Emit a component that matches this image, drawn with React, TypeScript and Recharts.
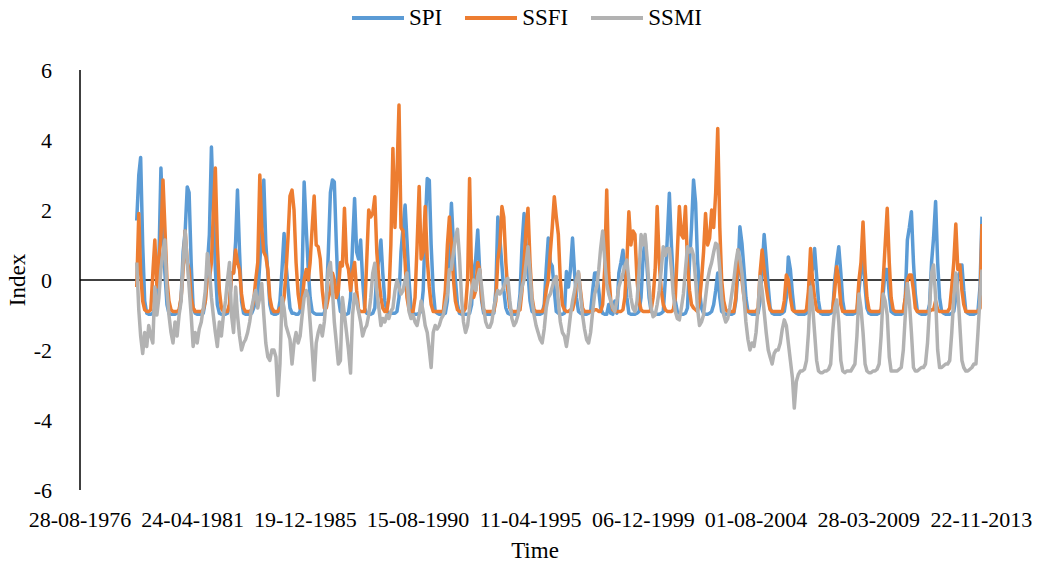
import { Line, LineChart, ReferenceLine, XAxis, YAxis } from 'recharts'

const FONT = '"Liberation Serif", "Times New Roman", serif'
const START_YEAR = 1979

// monthly values, one row per year (Jan..Dec), 1979-2013
const spi = [
  1.7, 3.0, 3.5, 1.0, -0.6, -0.95, -0.98, -0.98, -0.95, -0.8, -0.3, 0.5,
  3.2, 1.6, 0.2, -0.7, -0.95, -0.98, -0.98, -0.98, -0.95, -0.9, -0.5, 0.8,
  1.4, 2.66, 2.5, 0.5, -0.8, -0.95, -0.98, -0.98, -0.98, -0.95, -0.6, 0.4,
  1.3, 3.8, 2.2, 0.3, -0.7, -0.95, -0.98, -0.98, -0.98, -0.95, -0.7, 0.2,
  0.2, 1.1, 2.57, 0.8, -0.6, -0.95, -0.98, -0.98, -0.98, -0.95, -0.8, -0.6,
  -0.5, 0.5, 1.5, 2.86, 1.05, 0.2, -0.7, -0.95, -0.98, -0.98, -0.95, -0.6,
  0.3, 1.33, 0.5, -0.2, -0.8, -0.95, -0.95, -0.98, -0.98, -0.9, 0.2, 2.8,
  1.5, 0.3, -0.5, -0.9, -0.95, -0.98, -0.98, -0.98, -0.98, -0.95, -0.6, 0.8,
  2.5, 2.86, 2.8, 1.0, -0.5, -0.9, -0.95, -0.98, -0.98, -0.95, -0.5, 1.0,
  2.33, 0.8, 0.6, 1.14, 0.0, -0.8, -0.95, -0.98, -0.98, -0.95, -0.8, 0.2,
  0.6, 1.14, 0.2, -0.6, -0.9, -0.95, -0.95, -0.95, -0.95, -0.9, -0.5, 0.8,
  1.5, 2.14, 1.14, 0.0, -0.8, -0.95, -0.98, -0.98, -0.95, -0.9, -0.3, 1.5,
  2.9, 2.85, 1.0, -0.3, -0.9, -0.95, -0.98, -0.98, -0.98, -0.95, -0.6, 0.8,
  2.19, 1.0, 0.0, -0.7, -0.95, -0.98, -0.98, -0.98, -0.98, -0.95, -0.7, 0.2,
  0.6, 1.43, 0.3, -0.6, -0.95, -0.98, -0.98, -0.98, -0.98, -0.95, -0.3, 1.8,
  1.2, 0.4, -0.3, -0.8, -0.95, -0.98, -0.98, -0.98, -0.98, -0.95, -0.4, 1.0,
  1.9, 1.0, 0.2, -0.6, -0.9, -0.95, -0.98, -0.98, -0.98, -0.95, -0.7, 0.3,
  1.2, 0.5, 0.4, -0.3, -0.9, -0.95, -0.98, -0.98, -0.95, 0.24, -0.2, 0.3,
  1.2, 0.2, -0.5, -0.9, -0.95, -0.98, -0.98, -0.98, -0.95, -0.9, -0.3, 0.2,
  0.2, -0.3, -0.8, -0.95, -0.98, -0.98, -0.7, -0.95, -0.98, -0.6, -0.95, 0.2,
  0.5, 0.85, 0.2, -0.5, -0.95, -0.98, -0.98, -0.98, -0.95, -0.9, -0.5, 0.6,
  1.2, 0.3, -0.5, -0.9, -0.95, -0.98, -0.98, -0.98, -0.95, -0.9, 0.0, 1.2,
  2.48, 1.0, 0.0, -0.6, -0.9, -0.95, -0.98, -0.98, -0.95, -0.8, 0.5, 1.5,
  2.86, 2.2, 0.6, -0.3, -0.8, -0.95, -0.98, -0.98, -0.95, -0.9, -0.7, -0.3,
  0.2, -0.5, -0.9, -0.95, -0.98, -0.98, -0.98, -0.98, -0.95, -0.6, 0.2, 1.52,
  1.05, 0.3, -0.5, -0.9, -0.95, -0.98, -0.98, -0.98, -0.95, -0.6, 0.3, 1.3,
  0.6, -0.2, -0.8, -0.95, -0.98, -0.98, -0.98, -0.98, -0.95, -0.9, -0.5, 0.66,
  0.3, -0.4, -0.9, -0.95, -0.98, -0.98, -0.98, -0.98, -0.95, -0.8, 0.2, 0.3,
  0.9, 0.1, -0.6, -0.95, -0.98, -0.98, -0.98, -0.98, -0.95, -0.9, 0.0, 0.5,
  0.95, 0.2, -0.6, -0.95, -0.98, -0.98, -0.98, -0.98, -0.95, -0.9, -0.3, 0.3,
  0.6, -0.2, -0.8, -0.95, -0.98, -0.98, -0.98, -0.98, -0.95, -0.9, -0.4, 0.3,
  0.3, -0.4, -0.9, -0.95, -0.98, -0.98, -0.98, -0.98, -0.95, -0.5, 1.14, 1.5,
  1.95, 0.5, -0.4, -0.9, -0.95, -0.98, -0.98, -0.98, -0.95, -0.7, 0.5, 1.2,
  2.24, 0.5, -0.5, -0.9, -0.95, -0.98, -0.98, -0.98, -0.95, -0.9, -0.5, 0.1,
  0.2, 0.43, -0.3, -0.9, -0.95, -0.98, -0.98, -0.98, -0.95, -0.9, -0.2, 1.81,
]

const ssfi = [
  -0.2, 1.9, 0.2, -0.6, -0.85, -0.9, -0.9, -0.85, 0.2, 1.14, -0.2, 0.6,
  1.2, 2.86, 1.5, 0.0, -0.6, -0.85, -0.9, -0.9, -0.9, -0.85, -0.5, 0.3,
  1.4, 0.5, 0.3, -0.5, -0.8, -0.9, -0.9, -0.9, -0.9, -0.85, -0.6, 0.0,
  0.0, 0.5, 1.9, 3.2, 1.0, -0.3, -0.8, -0.9, -0.9, -0.9, -0.7, 0.2,
  0.2, 0.86, 0.5, 0.3, -0.4, -0.8, -0.9, -0.9, -0.9, -0.85, -0.6, 0.0,
  0.5, 3.0, 1.5, 0.8, 0.67, 0.3, -0.5, -0.8, -0.9, -0.9, -0.9, -0.8,
  -0.8, -0.5, 0.2, 1.2, 2.4, 2.57, 2.0, 0.5, -0.4, -0.8, -0.6, 0.0,
  0.3, 0.0, 0.5, 1.5, 2.4, 1.0, 0.95, 0.6, -0.3, -0.8, -0.8, -0.5,
  -0.3, 0.2, 0.0, -0.5, -0.3, 0.5, 0.4, 2.05, 0.5, 0.3, -0.3, 0.2,
  0.5, -0.3, -0.85, -0.9, -0.9, -0.9, 0.5, 2.0, 1.8, 1.9, 2.38, 0.8,
  0.0, -0.5, -0.8, -0.9, -0.9, -0.5, 1.0, 3.76, 1.5, 3.0, 5.0, 1.5,
  1.4, 0.5, -0.5, -0.85, -0.9, -0.9, -0.5, 1.0, 2.67, 0.6, 0.8, 2.1,
  0.6, -0.2, -0.7, -0.9, -0.9, -0.9, -0.9, -0.9, -0.9, -0.3, 1.0, 1.8,
  1.0, 0.0, -0.6, -0.85, -0.9, -0.9, -0.9, -0.8, 0.0, 2.9, 0.0, -0.5,
  -0.3, 0.5, 0.3, -0.5, -0.85, -0.9, -0.9, -0.9, -0.9, -0.9, -0.6, 0.57,
  1.0, 2.1, 1.8, 0.5, -0.3, -0.8, -0.9, -0.9, -0.9, -0.9, -0.85, -0.3,
  0.5, 1.5, 2.05, 0.5, -0.5, -0.85, -0.9, -0.9, -0.9, -0.9, -0.8, -0.3,
  0.0, 0.8, 1.5, 2.38, 1.8, 1.3, 0.0, -0.7, -0.85, -0.9, -0.9, -0.85,
  -0.85, -0.6, 0.0, 0.2, -0.3, -0.8, -0.9, -0.9, -0.9, -0.9, -0.9, -0.85,
  -0.85, -0.9, -0.9, -0.7, 0.3, 2.57, 0.2, -0.6, -0.85, -0.9, -0.9, -0.9,
  -0.9, -0.85, -0.5, 0.5, 1.95, 1.0, 1.4, 1.3, 0.0, -0.6, -0.85, -0.9,
  -0.9, -0.9, -0.9, -0.85, -0.5, 0.3, 2.1, 0.5, -0.3, -0.7, -0.85, -0.9,
  -0.9, -0.9, -0.85, -0.5, 0.8, 2.1, 1.3, 1.2, 2.1, 0.5, -0.3, -0.7,
  -0.8, -0.85, -0.9, -0.6, 0.0, 0.8, 1.9, 1.0, 1.2, 2.0, 1.5, 2.5,
  4.33, 1.5, 0.0, -0.6, -0.85, -0.9, -0.9, -0.9, -0.9, -0.5, 0.86, 0.3,
  0.0, -0.5, -0.85, -0.9, -0.9, -0.9, -0.9, -0.9, -0.8, 0.2, 0.86, 0.3,
  -0.2, -0.6, -0.85, -0.9, -0.9, -0.9, -0.9, -0.9, -0.9, -0.6, 0.14, 0.0,
  -0.5, -0.85, -0.9, -0.9, -0.9, -0.9, -0.9, -0.9, -0.85, -0.3, 0.9, 0.0,
  -0.5, -0.85, -0.9, -0.9, -0.9, -0.9, -0.9, -0.9, -0.9, -0.85, -0.3, 0.38,
  0.0, -0.7, -0.9, -0.9, -0.9, -0.9, -0.9, -0.9, -0.9, -0.85, 0.0, 0.5,
  1.66, 0.3, -0.5, -0.85, -0.9, -0.9, -0.9, -0.9, -0.9, -0.85, 0.0, 1.0,
  2.05, 0.5, -0.5, -0.85, -0.9, -0.9, -0.9, -0.9, -0.9, -0.5, 0.0, 0.14,
  0.14, -0.3, -0.8, -0.9, -0.9, -0.9, -0.9, -0.9, -0.9, -0.9, -0.85, -0.85,
  -0.6, -0.85, -0.9, -0.9, -0.9, -0.9, -0.9, -0.8, -0.2, 0.5, 1.6, 0.3,
  0.43, -0.3, -0.7, -0.9, -0.9, -0.9, -0.9, -0.9, -0.9, -0.9, -0.8, 1.6,
]

const ssmi = [
  0.5, -0.85, -1.6, -2.1, -1.5, -1.9, -1.3, -1.6, -1.8, -0.2, -1.0, -0.5,
  0.3, 0.8, 1.14, -0.3, -1.0, -1.5, -1.8, -1.2, -1.6, -1.0, -0.6, 0.5,
  1.4, 0.5, -0.2, -1.0, -1.9, -1.5, -1.8, -1.4, -1.2, -0.8, -0.3, 0.76,
  0.3, -0.5, -1.0, -1.5, -1.9, -1.2, -1.6, -1.0, -0.6, 0.0, 0.5, -1.0,
  -1.5, -0.2, -1.0, -1.6, -2.0, -1.8, -1.7, -1.5, -1.2, -0.8, -0.5, -0.3,
  -0.8, -0.5, -0.1, -1.0, -1.8, -2.2, -2.3, -2.0, -2.0, -2.2, -3.3, -2.4,
  -0.5, -0.8, -1.3, -1.5, -1.7, -2.4, -1.8, -1.5, -1.8, -1.6, -1.0, -0.5,
  -0.3, -0.5, -1.2, -2.0, -2.86, -1.8, -1.5, -1.3, -1.6, -1.2, -0.5, 0.3,
  0.5, -0.3, -1.2, -1.8, -2.4, -2.3, -0.5, -1.0, -1.5, -2.0, -2.66, -1.0,
  -0.4, -0.6, -0.9, -1.2, -1.6, -1.4, -1.3, -1.0, -0.5, 0.2, 0.48, -0.3,
  -0.8, -1.3, -1.1, -1.2, -1.0, -1.1, -0.9, -0.8, -0.3, 0.0, -0.2, -0.4,
  -0.3, 0.0, 0.2, -0.9, -1.1, -1.0, -1.2, -1.3, -1.0, -0.6, -0.9, -1.3,
  -1.5, -2.0, -2.5, -1.5, -1.3, -1.4, -1.3, -1.1, -1.0, -0.7, -0.4, 0.3,
  0.3, 0.8, 1.2, 1.45, 0.67, -0.5, -1.2, -1.5, -1.3, -0.8, -0.3, 0.0,
  -0.3, 0.1, 0.3, -0.2, -0.8, -1.2, -1.35, -1.35, -1.2, -0.8, -0.5, -0.3,
  -0.4, -0.3, -0.2, 0.0, 0.05, -0.6, -1.1, -1.3, -1.2, -1.0, -0.6, -0.2,
  0.0, 0.5, 0.95, 0.2, -0.6, -1.0, -1.3, -1.5, -1.7, -1.8, -1.4, -0.8,
  -0.5, -0.4, -0.2, 0.0, 0.1, -0.6, -1.2, -1.5, -1.6, -1.9, -1.5, -1.0,
  -0.6, -0.3, 0.0, 0.24, -0.4, -1.0, -1.4, -1.7, -1.8, -1.5, -0.9, -0.4,
  -0.2, 0.3, 0.9, 1.4, 0.6, -0.1, -0.4, -0.6, -0.8, -0.9, -0.6, -0.2,
  0.0, 0.2, 0.4, 0.57, 0.0, -0.5, -0.8, -0.9, -0.6, 0.2, 1.3, 1.0,
  1.3, 0.6, -0.2, -0.8, -1.05, -1.0, -0.7, -0.3, 0.3, 0.95, 0.7, 0.9,
  0.9, 0.3, -0.4, -0.9, -1.1, -1.14, -0.8, -0.4, 0.3, 0.95, 0.8, 0.9,
  0.7, 0.0, -0.8, -1.3, -1.2, -1.0, -0.5, 0.0, 0.3, 0.5, 0.8, 1.05,
  1.0, 0.3, -0.5, -1.0, -1.2, -1.1, -0.8, -0.4, 0.0, 0.5, 0.86, 0.6,
  0.2, -0.5, -1.2, -1.7, -2.0, -1.8, -1.9, -1.5, -0.8, 0.1, -0.3, -0.9,
  -1.5, -2.0, -2.2, -2.4, -2.1, -2.0, -2.0, -1.8, -1.4, -1.14, -1.3, -1.8,
  -2.3, -2.8, -3.66, -2.9, -2.7, -2.6, -2.6, -2.55, -2.3, -1.5, -0.2, -0.7,
  -1.5, -2.3, -2.6, -2.65, -2.65, -2.6, -2.6, -2.55, -2.4, -1.5, -0.8, -0.57,
  -1.2, -2.3, -2.6, -2.65, -2.6, -2.6, -2.6, -2.5, -2.4, -1.6, -0.4, -0.8,
  -1.5, -2.4, -2.6, -2.65, -2.65, -2.6, -2.6, -2.55, -2.4, -1.6, -0.4, -0.6,
  -1.0, -2.2, -2.6, -2.6, -2.6, -2.6, -2.55, -2.5, -2.0, -1.0, -0.1, -0.6,
  -1.5, -2.5, -2.6, -2.6, -2.55, -2.5, -2.5, -2.4, -1.8, -0.8, 0.2, 0.43,
  -0.5, -2.0, -2.5, -2.5, -2.45, -2.4, -2.4, -2.3, -1.5, -0.5, 0.2, -0.3,
  -1.3, -2.3, -2.5, -2.6, -2.6, -2.55, -2.5, -2.4, -2.4, -1.5, -0.5, 0.3,
]

const tickLabels = [
  '28-08-1976', '24-04-1981', '19-12-1985', '15-08-1990', '11-04-1995',
  '06-12-1999', '01-08-2004', '28-03-2009', '22-11-2013',
]
const yTicks = [-6, -4, -2, 0, 2, 4, 6]

const series = [
  { key: 'spi', name: 'SPI', color: '#5B9BD5' },
  { key: 'ssfi', name: 'SSFI', color: '#ED7D31' },
  { key: 'ssmi', name: 'SSMI', color: '#B2B2B2' },
]

const parseLabel = (s: string) => {
  const [d, m, y] = s.split('-').map(Number)
  return Date.UTC(y, m - 1, d)
}
const xTicks = tickLabels.map(parseLabel)
const pad = (n: number) => String(n).padStart(2, '0')
const fmtDate = (v: number) => {
  const d = new Date(v)
  return `${pad(d.getUTCDate())}-${pad(d.getUTCMonth() + 1)}-${d.getUTCFullYear()}`
}

const data = spi.map((v, i) => ({
  t: Date.UTC(START_YEAR + Math.floor(i / 12), i % 12, 1),
  spi: v,
  ssfi: ssfi[i],
  ssmi: ssmi[i],
}))

const tickStyle = { fontSize: 22, fill: '#000', fontFamily: FONT }

export default function App() {
  return (
    <div style={{ position: 'relative', width: 1037, height: 563, background: '#fff', fontFamily: FONT }}>
      <style>{'body{margin:0}'}</style>
      <div style={{ position: 'absolute', left: 352, top: 6, display: 'flex', alignItems: 'center', fontSize: 23, lineHeight: '24px' }}>
        {series.map(s => (
          <div key={s.key} style={{ display: 'flex', alignItems: 'center', marginRight: 23 }}>
            <span style={{ display: 'inline-block', width: 52, height: 4, background: s.color, marginRight: 5 }} />
            <span>{s.name}</span>
          </div>
        ))}
      </div>
      <LineChart width={1037} height={563} data={data} margin={{ top: 70, right: 55, bottom: 0, left: 0 }}>
        <XAxis type="number" dataKey="t" domain={[xTicks[0], data[data.length - 1].t]} ticks={xTicks}
          tickFormatter={fmtDate} interval={0} axisLine={false} tickLine={false} height={73}
          tickMargin={15} tick={tickStyle} allowDataOverflow />
        <YAxis type="number" domain={[-6, 6]} ticks={yTicks} width={80} interval={0}
          axisLine={{ stroke: '#000', strokeWidth: 1.5 }} tickLine={false} tickMargin={22} tick={tickStyle} />
        <ReferenceLine y={0} stroke="#000" strokeWidth={1.5} />
        {series.map(s => (
          <Line key={s.key} type="linear" dataKey={s.key} name={s.name} stroke={s.color}
            strokeWidth={3.5} dot={false} isAnimationActive={false} strokeLinejoin="round" />
        ))}
      </LineChart>
      <div style={{ position: 'absolute', left: 18, top: 280, transform: 'translate(-50%, -50%) rotate(-90deg)', fontSize: 23 }}>
        Index
      </div>
      <div style={{ position: 'absolute', left: 535, top: 551, transform: 'translate(-50%, -50%)', fontSize: 23 }}>
        Time
      </div>
    </div>
  )
}
